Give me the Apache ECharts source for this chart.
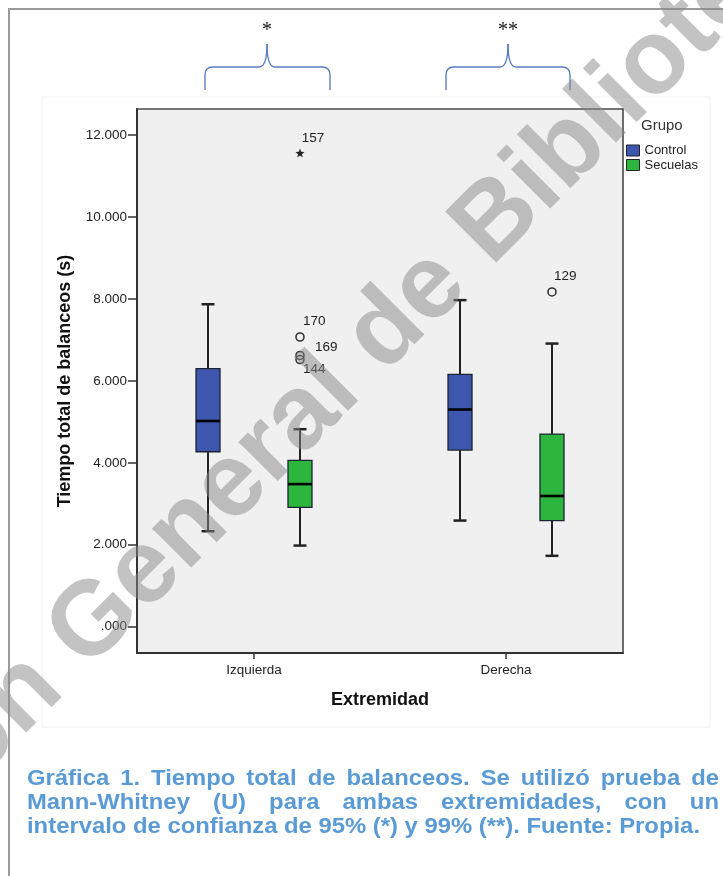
<!DOCTYPE html>
<html>
<head>
<meta charset="utf-8">
<script src="https://cdn.jsdelivr.net/npm/echarts@6/dist/echarts.min.js"></script>
<style>
  html, body { margin: 0; padding: 0; background: #ffffff; }
  #chart { width: 723px; height: 876px; }
</style>
</head>
<body>
<div id="chart"></div>
<script>
// Categories and groups
const categories = ['Izquierda', 'Derecha'];
const groups = ['Control', 'Secuelas'];

// Box summaries per category: [lower whisker, Q1, median, Q3, upper whisker] (s)
const controlBox = [
  [2.33, 4.27, 5.02, 6.30, 7.87],
  [2.59, 4.31, 5.30, 6.16, 7.97]
];
const secuelasBox = [
  [1.98, 2.91, 3.48, 4.06, 4.82],
  [1.73, 2.59, 3.19, 4.70, 6.91]
];

// Outliers of the Secuelas group: [category index, value, case id]
const secuelasOutliers = [
  [0, 7.07, '170'],
  [0, 6.62, '169'],
  [0, 6.52, '144'],
  [1, 8.17, '129']
];
// Extreme values of the Secuelas group
const secuelasExtremes = [
  [0, 11.56, '157']
];

// Y axis tick values
const yTicks = [0, 2, 4, 6, 8, 10, 12];

// Caption lines
const captionLines = [
  'Gráfica 1. Tiempo total de balanceos. Se utilizó prueba de',
  'Mann-Whitney (U) para ambas extremidades, con un',
  'intervalo de confianza de 95% (*) y 99% (**). Fuente: Propia.'
];

// ---- styling / layout ----
const BLUE = '#3c57ad';
const GREEN = '#2cb63e';
const INK = '#222222';
const FONT = '"Liberation Sans", Arial, sans-serif';
const groupOffset = 0.1825;      // horizontal offset of each group from the category tick (axis units)
const boxHalfWidth = 12;         // px
const capHalfWidth = 6.5;        // px
const labelOffsets = { '157': [13, -15], '170': [15, -15], '169': [27, -7], '144': [15, 11], '129': [14, -15] };

function boxRenderer(offset, color) {
  return function (params, api) {
    const x = api.value(0) + offset;
    const pLow = api.coord([x, api.value(1)]);
    const pQ1 = api.coord([x, api.value(2)]);
    const pMed = api.coord([x, api.value(3)]);
    const pQ3 = api.coord([x, api.value(4)]);
    const pHigh = api.coord([x, api.value(5)]);
    const cx = pLow[0];
    const line = { stroke: INK, lineWidth: 2 };
    return {
      type: 'group',
      children: [
        { type: 'line', shape: { x1: cx, y1: pLow[1], x2: cx, y2: pQ1[1] }, style: line },
        { type: 'line', shape: { x1: cx, y1: pQ3[1], x2: cx, y2: pHigh[1] }, style: line },
        { type: 'line', shape: { x1: cx - capHalfWidth, y1: pLow[1], x2: cx + capHalfWidth, y2: pLow[1] }, style: { stroke: INK, lineWidth: 2.5 } },
        { type: 'line', shape: { x1: cx - capHalfWidth, y1: pHigh[1], x2: cx + capHalfWidth, y2: pHigh[1] }, style: { stroke: INK, lineWidth: 2.5 } },
        { type: 'rect', shape: { x: cx - boxHalfWidth, y: pQ3[1], width: boxHalfWidth * 2, height: pQ1[1] - pQ3[1] },
          style: { fill: color, stroke: '#1c2433', lineWidth: 1.3 } },
        { type: 'line', shape: { x1: cx - boxHalfWidth, y1: pMed[1], x2: cx + boxHalfWidth, y2: pMed[1] }, style: { stroke: '#000', lineWidth: 2.6 } }
      ]
    };
  };
}

// five-pointed star used for extreme values
function starPath() {
  const pts = [];
  for (let i = 0; i < 10; i++) {
    const r = i % 2 === 0 ? 1 : 0.42;
    const a = -Math.PI / 2 + i * Math.PI / 5;
    pts.push((r * Math.cos(a)).toFixed(3) + ',' + (r * Math.sin(a)).toFixed(3));
  }
  return 'path://M' + pts.join('L') + 'Z';
}

function toPoints(list, offset, size) {
  return list.map(function (p) {
    const off = labelOffsets[p[2]] || [12, -12];
    return {
      value: [p[0] + offset, p[1]],
      // label position is measured from the symbol box corner
      label: { show: true, formatter: p[2], position: [off[0] + size / 2, off[1] + size / 2] }
    };
  });
}

const chart = echarts.init(document.getElementById('chart'), null, { renderer: 'canvas' });

const option = {
  animation: false,
  backgroundColor: '#ffffff',
  textStyle: { fontFamily: FONT },
  grid: {
    left: 137, top: 109, width: 486, height: 544,
    show: true, backgroundColor: '#f0f0f0', borderColor: '#4a4a4a', borderWidth: 1.6
  },
  xAxis: {
    type: 'value',
    min: -0.4643, max: 1.4643,
    splitLine: { show: false },
    axisLine: { show: true, onZero: false, lineStyle: { color: '#333', width: 2 } },
    axisTick: { show: true, customValues: [0, 1], length: 6, lineStyle: { color: '#333', width: 1.5 } },
    axisLabel: {
      customValues: [0, 1], margin: 10, fontSize: 13.5, color: INK, fontFamily: FONT,
      formatter: function (v) { return categories[Math.round(v)]; }
    },
    name: 'Extremidad', nameLocation: 'middle', nameGap: 38,
    nameTextStyle: { fontSize: 18, fontWeight: 'bold', color: '#111', fontFamily: FONT }
  },
  yAxis: {
    type: 'value',
    min: -0.642, max: 12.635,
    splitLine: { show: false },
    axisLine: { show: true, onZero: false, lineStyle: { color: '#333', width: 2 } },
    axisTick: { show: true, customValues: yTicks, length: 9, lineStyle: { color: '#333', width: 1.5 } },
    axisLabel: {
      customValues: yTicks, margin: 10, fontSize: 13.5, color: INK, fontFamily: FONT,
      formatter: function (v) { const s = v.toFixed(3); return v === 0 ? s.slice(1) : s; }
    },
    name: 'Tiempo total de balanceos (s)', nameLocation: 'middle', nameGap: 63,
    nameTextStyle: { fontSize: 18, fontWeight: 'bold', color: '#111', fontFamily: FONT }
  },
  legend: {
    orient: 'vertical', left: 621, top: 139,
    itemWidth: 13, itemHeight: 11, itemGap: 1.5,
    textStyle: { fontSize: 13, color: INK, fontFamily: FONT },
    selectedMode: false,
    data: [
      { name: groups[0], icon: 'rect', itemStyle: { color: BLUE, borderColor: '#222', borderWidth: 1 } },
      { name: groups[1], icon: 'rect', itemStyle: { color: GREEN, borderColor: '#222', borderWidth: 1 } }
    ]
  },
  series: [
    {
      name: groups[0], type: 'custom', itemStyle: { color: BLUE },
      renderItem: boxRenderer(-groupOffset, BLUE),
      encode: { x: 0, y: [1, 2, 3, 4, 5] },
      data: controlBox.map(function (b, i) { return [i].concat(b); })
    },
    {
      name: groups[1], type: 'custom', itemStyle: { color: GREEN },
      renderItem: boxRenderer(groupOffset, GREEN),
      encode: { x: 0, y: [1, 2, 3, 4, 5] },
      data: secuelasBox.map(function (b, i) { return [i].concat(b); })
    },
    {
      name: 'outliers', type: 'scatter', symbol: 'circle', symbolSize: 8,
      itemStyle: { color: 'rgba(0,0,0,0)', borderColor: '#333', borderWidth: 1.6, opacity: 1 },
      label: { fontSize: 13.5, color: INK, fontFamily: FONT, align: 'center', verticalAlign: 'middle' },
      data: toPoints(secuelasOutliers, groupOffset, 8)
    },
    {
      name: 'extremes', type: 'scatter', symbol: starPath(), symbolSize: 9,
      itemStyle: { color: '#222', opacity: 1 },
      label: { fontSize: 13.5, color: INK, fontFamily: FONT, align: 'center', verticalAlign: 'middle' },
      data: toPoints(secuelasExtremes, groupOffset, 9)
    }
  ]
};

chart.setOption(option);

// ---- annotations: frame, significance braces, legend title, caption, watermark ----
const graphics = [];

// page frame and the faint chart panel
graphics.push({ type: 'rect', shape: { x: 9, y: 9, width: 760, height: 900 }, style: { fill: 'none', stroke: '#9a9a9a', lineWidth: 2 }, z: -10 });
graphics.push({ type: 'rect', shape: { x: 42, y: 97, width: 668, height: 630 }, style: { fill: 'none', stroke: '#f2f2f2', lineWidth: 1 }, z: -9 });

// horizontal curly brace built from straight runs and quadratic curves
function braceParts(x0, xm, x1, yBase, yBar, yPeak) {
  const r = 8;
  const st = { fill: 'none', stroke: '#5b7ec2', lineWidth: 1.4 };
  const q = function (a, b, c, d, e, f) { return { type: 'bezierCurve', shape: { x1: a, y1: b, cpx1: c, cpy1: d, x2: e, y2: f }, style: st }; };
  const l = function (a, b, c, d) { return { type: 'line', shape: { x1: a, y1: b, x2: c, y2: d }, style: st }; };
  return [
    l(x0, yBase, x0, yBar + r),
    q(x0, yBar + r, x0, yBar, x0 + r, yBar),
    l(x0 + r, yBar, xm - r, yBar),
    q(xm - r, yBar, xm, yBar, xm, yPeak),
    q(xm, yPeak, xm, yBar, xm + r, yBar),
    l(xm + r, yBar, x1 - r, yBar),
    q(x1 - r, yBar, x1, yBar, x1, yBar + r),
    l(x1, yBar + r, x1, yBase)
  ];
}
const tickL = chart.convertToPixel({ xAxisIndex: 0 }, 0);
const tickR = chart.convertToPixel({ xAxisIndex: 0 }, 1);
const braces = [
  { x0: tickL - 49, xm: tickL + 13, x1: tickL + 76, mark: '*' },
  { x0: tickR - 60, xm: tickR + 2, x1: tickR + 64, mark: '**' }
];
braces.forEach(function (b) {
  braceParts(b.x0, b.xm, b.x1, 90, 67, 44).forEach(function (e) { graphics.push(e); });
  graphics.push({ type: 'text', x: b.xm, y: 31,
    style: { text: b.mark, font: '20px "Liberation Serif", "Times New Roman", serif', fill: '#111', textAlign: 'center', textVerticalAlign: 'middle' } });
});

// legend title
graphics.push({ type: 'text', x: 641, y: 126,
  style: { text: 'Grupo', font: '15px ' + FONT, fill: '#333', textAlign: 'left', textVerticalAlign: 'middle' } });

// caption, justified on the first two lines
const capFont = 'bold 22px "Liberation Sans", Arial, sans-serif';
const ctx = document.createElement('canvas').getContext('2d');
ctx.font = capFont;
const capLeft = 27, capRight = 719, lastLineRight = 700;
const sx = (lastLineRight - capLeft) / ctx.measureText(captionLines[2]).width;
const capY = [779, 803, 827];
captionLines.forEach(function (line, li) {
  if (li === captionLines.length - 1) {
    graphics.push({ type: 'text', x: capLeft, y: capY[li], scaleX: sx,
      style: { text: line, font: capFont, fill: '#5b9bd5', textVerticalAlign: 'middle' } });
    return;
  }
  const words = line.split(' ');
  const widths = words.map(function (w) { return ctx.measureText(w).width * sx; });
  const total = widths.reduce(function (a, b) { return a + b; }, 0);
  const gap = (capRight - capLeft - total) / (words.length - 1);
  let x = capLeft;
  words.forEach(function (w, wi) {
    graphics.push({ type: 'text', x: x, y: capY[li], scaleX: sx,
      style: { text: w, font: capFont, fill: '#5b9bd5', textVerticalAlign: 'middle' } });
    x += widths[wi] + gap;
  });
});

// library watermark across the page
const wmSize = 105;
const wmFont = 'bold ' + wmSize + 'px "Liberation Sans", Arial, sans-serif';
const wmText = 'Dirección General de Bibliotecas';
ctx.font = wmFont;
const lead = ctx.measureText('Dirección ').width;
const ang = 45 * Math.PI / 180;
const dir = [Math.cos(ang), -Math.sin(ang)];    // along the text
const up = [-Math.sin(ang), -Math.cos(ang)];    // towards the top of the glyphs
const gx = 92, gy = 677;                        // start of "General"
const mid = 0.345 * wmSize;
graphics.push({ type: 'text', rotation: ang, z: 100,
  x: gx - lead * dir[0] + mid * up[0],
  y: gy - lead * dir[1] + mid * up[1],
  style: { text: wmText, font: wmFont, fill: 'rgba(135,135,135,0.5)', textAlign: 'left', textVerticalAlign: 'middle' } });

chart.setOption({ graphic: { elements: graphics } });
</script>
</body>
</html>
